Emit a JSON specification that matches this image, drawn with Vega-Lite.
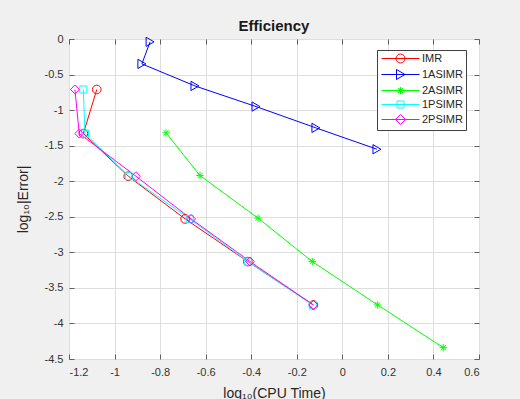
{
  "$schema": "https://vega.github.io/schema/vega-lite/v6.json",
  "autosize": "none",
  "width": 410,
  "height": 320,
  "padding": {"left": 69, "top": 39, "right": 41, "bottom": 40},
  "background": "#f0f0f0",
  "title": {"text": "Efficiency", "font": "Liberation Sans", "fontSize": 15, "fontWeight": "bold", "color": "#1a1a1a", "offset": -1},
  "config": {
    "view": {"fill": "white", "stroke": "#606060", "strokeWidth": 1},
    "axis": {"labelFont": "Liberation Sans", "labelFontSize": 11, "labelColor": "#333333", "titleFont": "Liberation Sans", "titleFontSize": 14, "titleFontWeight": "normal", "titleColor": "#262626", "gridColor": "#dedede", "gridOpacity": 1, "domainColor": "#606060", "tickColor": "#606060", "tickSize": -5},
    "legend": {"orient": "none", "legendX": 308, "legendY": 11, "padding": 3, "fillColor": "white", "strokeColor": "#404040", "symbolSize": 100, "symbolOffset": 15, "symbolStrokeWidth": 1, "labelOffset": 16, "rowPadding": 2, "labelFont": "Liberation Sans", "labelFontSize": 11, "labelColor": "#262626"},
    "point": {"filled": false, "strokeWidth": 1, "size": 75, "opacity": 1}
  },
  "data": {"values": [
    {"s": "IMR", "i": 1, "x": -1.078, "y": -0.71},
    {"s": "IMR", "i": 2, "x": -1.137, "y": -1.33},
    {"s": "IMR", "i": 3, "x": -0.94, "y": -1.93},
    {"s": "IMR", "i": 4, "x": -0.69, "y": -2.53},
    {"s": "IMR", "i": 5, "x": -0.415, "y": -3.13},
    {"s": "IMR", "i": 6, "x": -0.127, "y": -3.74},
    {"s": "1ASIMR", "i": 1, "x": -0.844, "y": -0.04},
    {"s": "1ASIMR", "i": 2, "x": -0.88, "y": -0.35},
    {"s": "1ASIMR", "i": 3, "x": -0.647, "y": -0.66},
    {"s": "1ASIMR", "i": 4, "x": -0.379, "y": -0.95},
    {"s": "1ASIMR", "i": 5, "x": -0.116, "y": -1.25},
    {"s": "1ASIMR", "i": 6, "x": 0.152, "y": -1.55},
    {"s": "2ASIMR", "i": 1, "x": -0.774, "y": -1.32},
    {"s": "2ASIMR", "i": 2, "x": -0.625, "y": -1.92},
    {"s": "2ASIMR", "i": 3, "x": -0.37, "y": -2.52},
    {"s": "2ASIMR", "i": 4, "x": -0.132, "y": -3.13},
    {"s": "2ASIMR", "i": 5, "x": 0.155, "y": -3.74},
    {"s": "2ASIMR", "i": 6, "x": 0.443, "y": -4.34},
    {"s": "1PSIMR", "i": 1, "x": -1.137, "y": -0.71},
    {"s": "1PSIMR", "i": 2, "x": -1.13, "y": -1.33},
    {"s": "1PSIMR", "i": 3, "x": -0.937, "y": -1.93},
    {"s": "1PSIMR", "i": 4, "x": -0.67, "y": -2.53},
    {"s": "1PSIMR", "i": 5, "x": -0.415, "y": -3.13},
    {"s": "1PSIMR", "i": 6, "x": -0.13, "y": -3.74},
    {"s": "2PSIMR", "i": 1, "x": -1.174, "y": -0.71},
    {"s": "2PSIMR", "i": 2, "x": -1.155, "y": -1.33},
    {"s": "2PSIMR", "i": 3, "x": -0.906, "y": -1.93},
    {"s": "2PSIMR", "i": 4, "x": -0.664, "y": -2.53},
    {"s": "2PSIMR", "i": 5, "x": -0.405, "y": -3.13},
    {"s": "2PSIMR", "i": 6, "x": -0.127, "y": -3.74}
  ]},
  "layer": [
    {
      "mark": {"type": "line", "strokeWidth": 1},
      "encoding": {
        "x": {"field": "x", "type": "quantitative", "scale": {"domain": [-1.2, 0.6], "nice": false, "zero": false},
              "axis": {"orient": "bottom", "values": [-1.2, -1, -0.8, -0.6, -0.4, -0.2, 0, 0.2, 0.4, 0.6], "labelExpr": "datum.value + ''", "title": "log₁₀(CPU Time)", "labelPadding": 12, "titlePadding": 9, "grid": true, "domain": false}},
        "y": {"field": "y", "type": "quantitative", "scale": {"domain": [-4.5, 0], "nice": false, "zero": false},
              "axis": {"orient": "left", "values": [0, -0.5, -1, -1.5, -2, -2.5, -3, -3.5, -4, -4.5], "labelExpr": "datum.value + ''", "title": "log₁₀|Error|", "labelPadding": 11, "titlePadding": 14, "grid": true, "domain": false}},
        "color": {"field": "s", "type": "nominal", "scale": {"domain": ["IMR", "1ASIMR", "2ASIMR", "1PSIMR", "2PSIMR"], "range": ["#ff0000", "#0000ff", "#00ff00", "#00ffff", "#ff00ff"]},
          "legend": {"title": null, "symbolType": "circle", "encode": {"symbols": {"update": {"fill": {"value": "transparent"}, "shape": {"signal": "datum.value === 'IMR' ? 'M-3.8,0L3.8,0M0.9,0A0.9,0.9 0 1,1 -0.9,0A0.9,0.9 0 1,1 0.9,0' : datum.value === '1ASIMR' ? 'M-3.8,0L3.8,0M-0.8,-1L0.9,0L-0.8,1Z' : datum.value === '2ASIMR' ? 'M-3.8,0L3.8,0M0,-0.7L0,0.7M-0.5,-0.5L0.5,0.5M-0.5,0.5L0.5,-0.5' : datum.value === '1PSIMR' ? 'M-3.8,0L3.8,0M-0.7,-0.7L0.7,-0.7L0.7,0.7L-0.7,0.7Z' : 'M-3.8,0L3.8,0M0,-1L1,0L0,1L-1,0Z'"}}}}}},
        "order": {"field": "i", "type": "quantitative"}
      }
    },
    {
      "transform": [{"filter": "datum.s === 'IMR'"}],
      "mark": {"type": "point", "shape": "circle"},
      "encoding": {
        "x": {"field": "x", "type": "quantitative", "axis": {"orient": "top", "values": [-1.2, -1, -0.8, -0.6, -0.4, -0.2, 0, 0.2, 0.4, 0.6], "labels": false, "title": null, "grid": false, "domain": false}},
        "y": {"field": "y", "type": "quantitative", "axis": {"orient": "right", "values": [0, -0.5, -1, -1.5, -2, -2.5, -3, -3.5, -4, -4.5], "labels": false, "title": null, "grid": false, "domain": false}},
        "color": {"field": "s", "type": "nominal", "legend": null}
      }
    },
    {
      "transform": [{"filter": "datum.s === '1ASIMR'"}],
      "mark": {"type": "point", "shape": "triangle-right", "size": 85},
      "encoding": {
        "x": {"field": "x", "type": "quantitative", "axis": null},
        "y": {"field": "y", "type": "quantitative", "axis": null},
        "color": {"field": "s", "type": "nominal", "legend": null}
      }
    },
    {
      "transform": [{"filter": "datum.s === '2ASIMR'"}],
      "mark": {"type": "point", "shape": "M-1,0L1,0M0,-1L0,1M-0.7,-0.7L0.7,0.7M-0.7,0.7L0.7,-0.7", "size": 55},
      "encoding": {
        "x": {"field": "x", "type": "quantitative", "axis": null},
        "y": {"field": "y", "type": "quantitative", "axis": null},
        "color": {"field": "s", "type": "nominal", "legend": null}
      }
    },
    {
      "transform": [{"filter": "datum.s === '1PSIMR'"}],
      "mark": {"type": "point", "shape": "square", "size": 50},
      "encoding": {
        "x": {"field": "x", "type": "quantitative", "axis": null},
        "y": {"field": "y", "type": "quantitative", "axis": null},
        "color": {"field": "s", "type": "nominal", "legend": null}
      }
    },
    {
      "transform": [{"filter": "datum.s === '2PSIMR'"}],
      "mark": {"type": "point", "shape": "diamond", "size": 80},
      "encoding": {
        "x": {"field": "x", "type": "quantitative", "axis": null},
        "y": {"field": "y", "type": "quantitative", "axis": null},
        "color": {"field": "s", "type": "nominal", "legend": null}
      }
    }
  ],
  "resolve": {"axis": {"x": "independent", "y": "independent"}}
}
